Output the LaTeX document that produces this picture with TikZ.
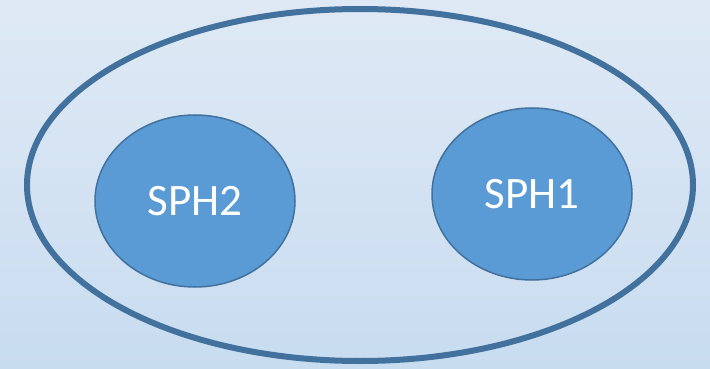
\documentclass[tikz,border=0pt]{standalone}
\usepackage{fontspec}
\setmainfont{Carlito}
\usetikzlibrary{shapes.geometric}
\definecolor{bgtop}{HTML}{DFE9F5}
\definecolor{bgbot}{HTML}{C8DCF0}
\definecolor{rim}{HTML}{41719C}
\definecolor{blob}{HTML}{5B9BD5}
\tikzset{
  sph/.style={ellipse, draw=rim, line width=1.5pt, fill=blob, inner sep=0pt,
    minimum width=200pt, minimum height=172pt, text=white, font=\fontsize{45}{50}\selectfont}
}
\begin{document}
\begin{tikzpicture}[x=1pt,y=-1pt]
		\useasboundingbox (0,0) rectangle (710,369);
		\shade[top color=bgtop,bottom color=bgbot] (0,0) rectangle (710,369);
		\node[ellipse, draw=rim, line width=6pt, minimum width=666pt, minimum height=352pt, inner sep=0pt] (outer) at (360,185) {};
		\node[sph] (sph2) at (195,201) {SPH2};
		\node[sph] (sph1) at (532,194) {SPH1};
		\end{tikzpicture}
\end{document}
